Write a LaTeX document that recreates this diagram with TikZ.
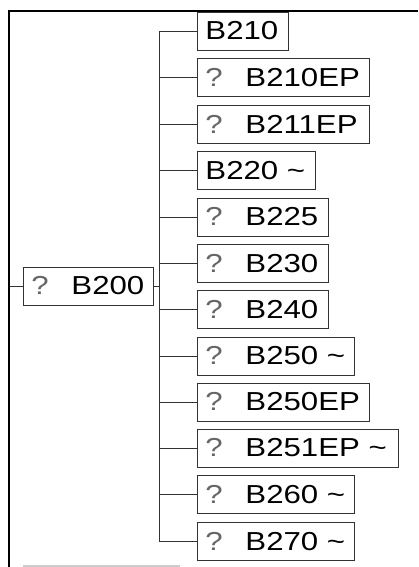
\documentclass[tikz,border=0pt]{standalone}
\usepackage{fontspec}
\setmainfont[FakeStretch=1.2]{Liberation Sans}
\newcommand{\qm}{\makebox[40bp][l]{\textcolor{black!60}{?}}}
\begin{document}
\begin{tikzpicture}[x=1bp,y=-1bp,
  item/.style={draw=black!80, line width=0.9bp, anchor=west, inner xsep=8bp, inner ysep=0bp,
    minimum height=38bp, font=\fontsize{26bp}{29bp}\selectfont, align=left},
  conn/.style={draw=black!80, line width=0.9bp},
  frame/.style={draw=black, line width=2bp}]
\useasboundingbox (0,0) rectangle (418,567);
\fill[white] (0,0) rectangle (418,567);
% frame
\coordinate (fl) at (9,567);
\coordinate (ftl) at (9,11.5);
\coordinate (ftr) at (418,11.5);
\draw[frame] (fl) -- (ftl) -- (ftr);
\coordinate (gl) at (23,565.5);
\coordinate (gr) at (180,565.5);
\draw[black!20, line width=2bp] (gl) -- (gr);
% root
\node[item, text width=114bp] (root) at (23,286) {\qm B200};
\coordinate (rs) at (10,286);
\draw[conn] (rs) -- (root.west);
\coordinate (trunktop) at (159,31);
\coordinate (trunkbot) at (159,541);
\coordinate (rj) at (159,286);
\draw[conn] (root.east) -- (rj);
\draw[conn] (trunktop) -- (trunkbot);
% children
\foreach \name/\y/\w/\txt in {
  a/31/75/{B210},
  b/77.5/156/{\qm B210EP},
  c/124/156/{\qm B211EP},
  d/170.5/102/{B220 \char`\~},
  e/217/115/{\qm B225},
  f/263.5/115/{\qm B230},
  g/309.5/115/{\qm B240},
  h/356/141/{\qm B250 \char`\~},
  i/402/156/{\qm B250EP},
  j/448/185/{\qm B251EP \char`\~},
  k/494.5/141/{\qm B260 \char`\~},
  l/541.5/141/{\qm B270 \char`\~}} {
  \node[item, text width=\w bp] (\name) at (197,\y) {\txt};
  \coordinate (\name j) at (159,\y);
  \draw[conn] (\name j) -- (\name.west);
}
\end{tikzpicture}
\end{document}
